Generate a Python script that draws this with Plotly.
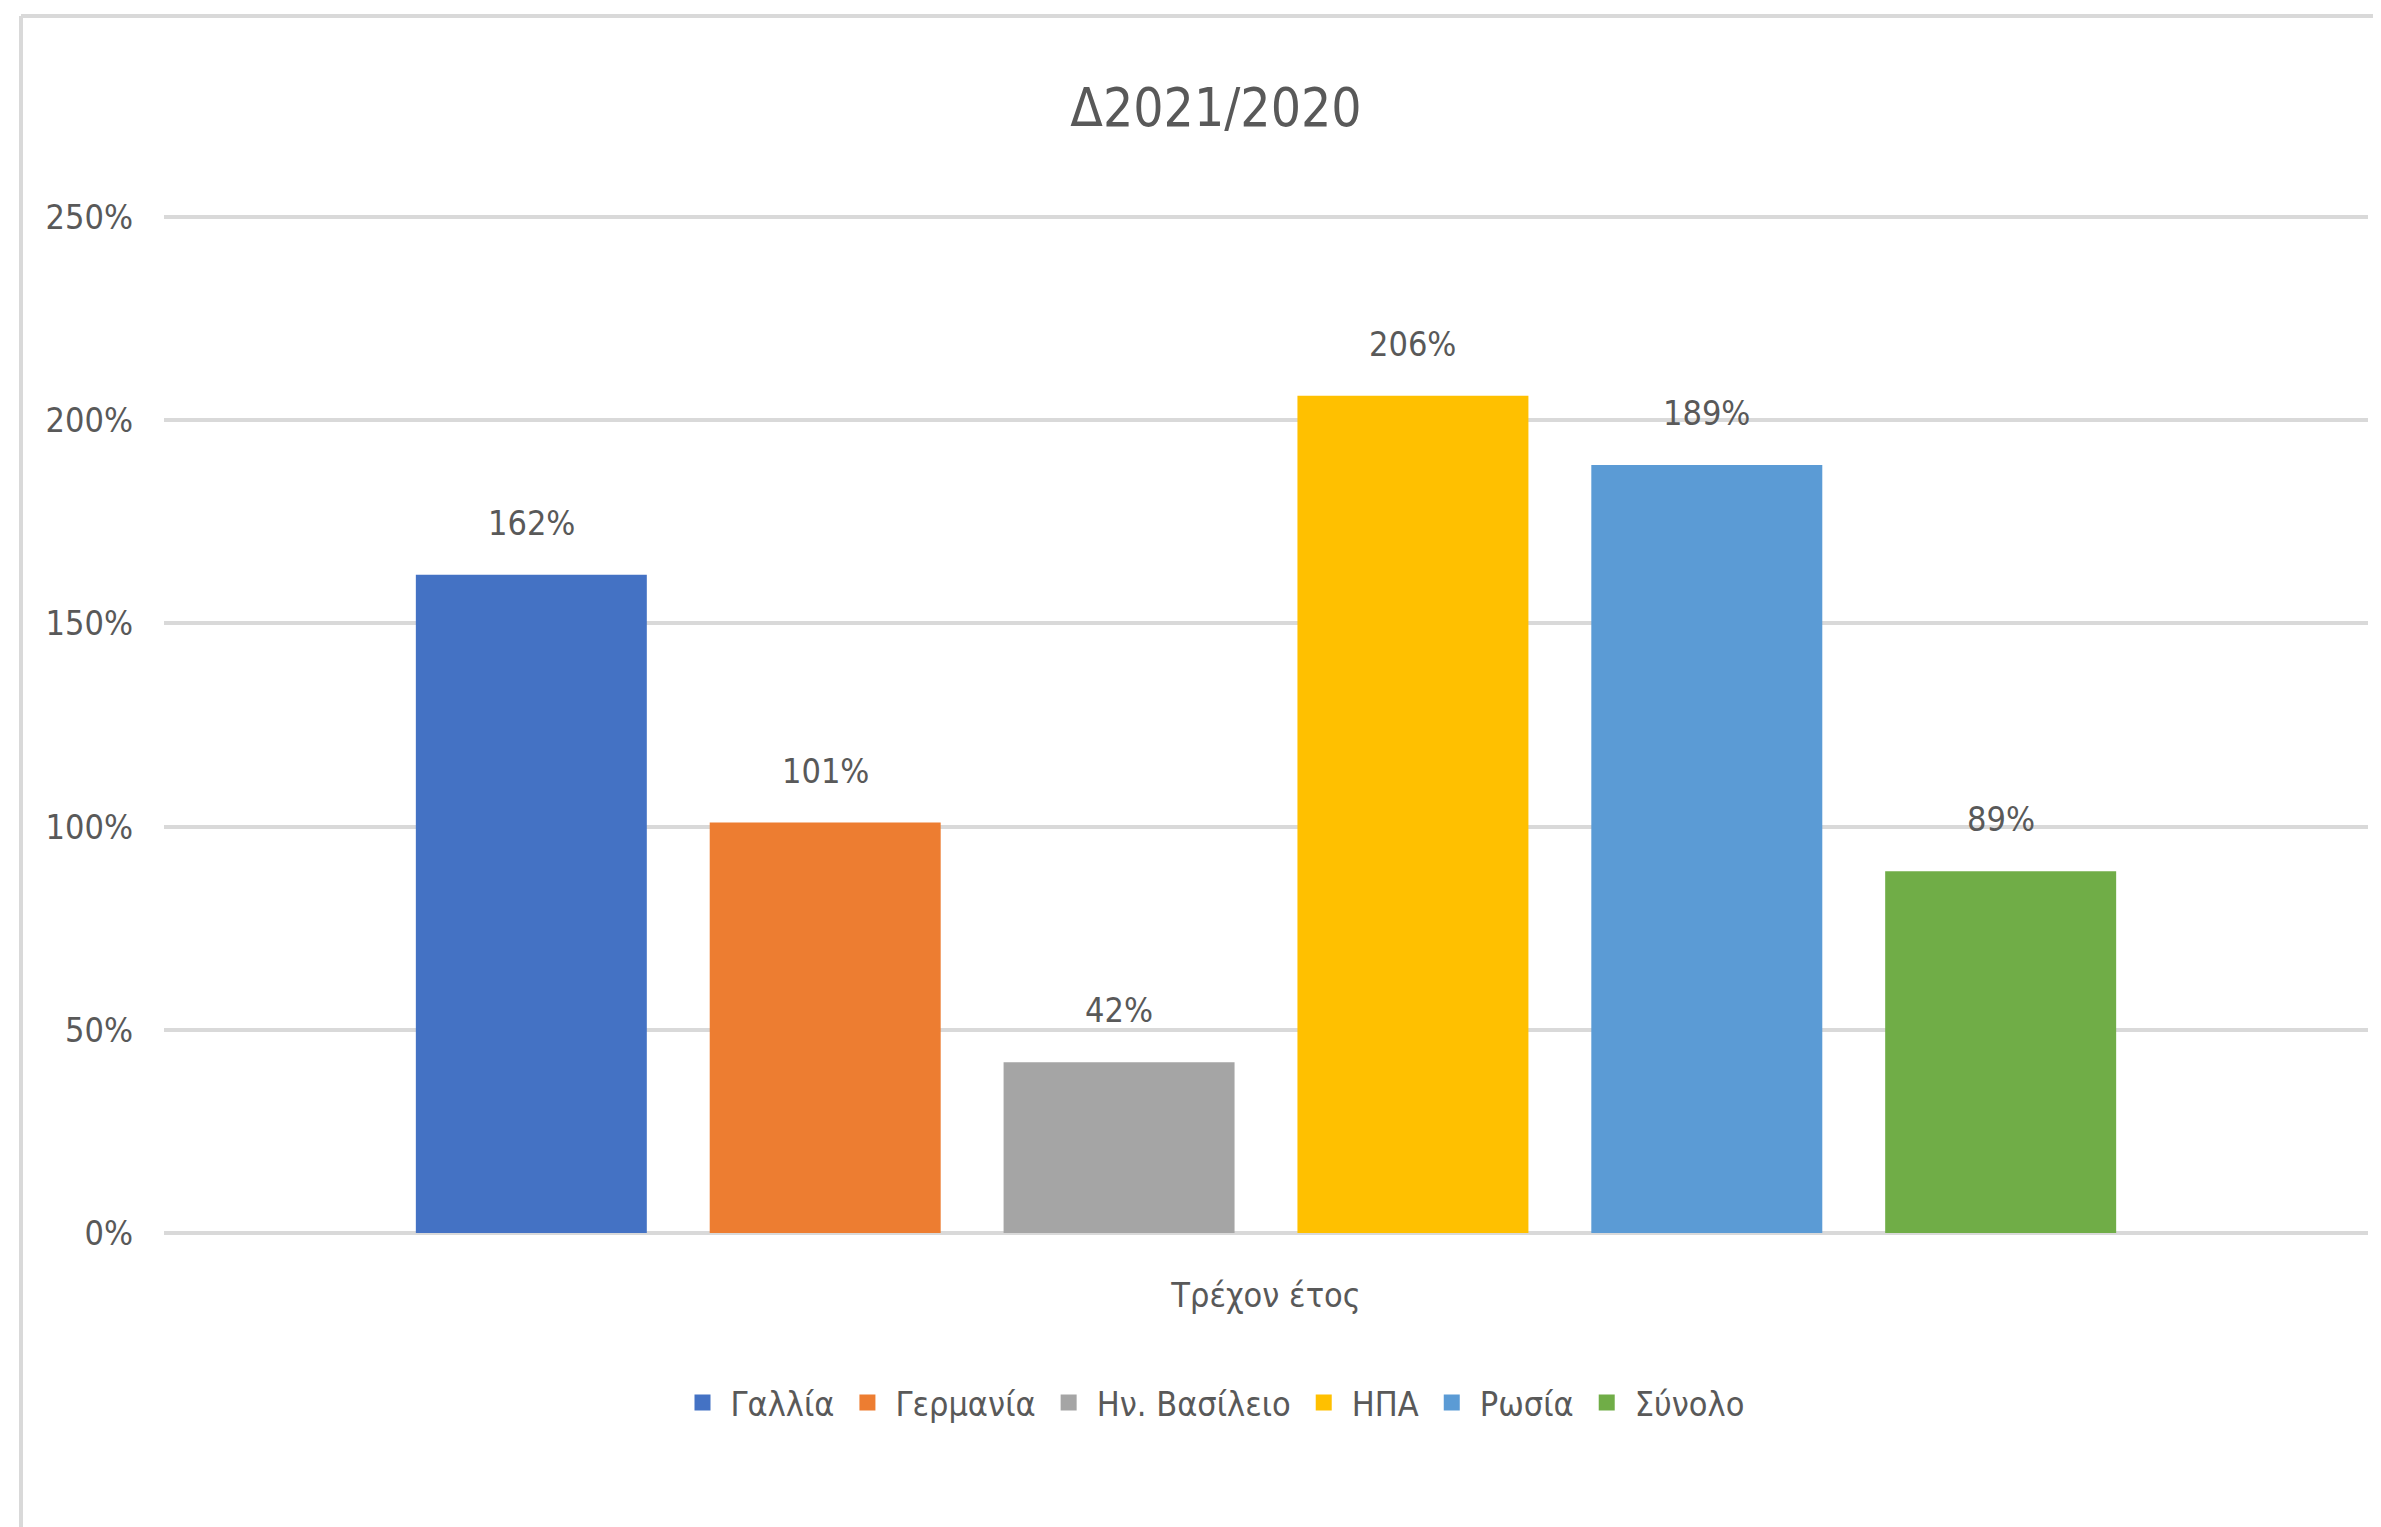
import plotly.graph_objects as go

categories = ["Τρέχον έτος"]
series_names = ["Γαλλία", "Γερμανία", "Ην. Βασίλειο", "ΗΠΑ", "Ρωσία", "Σύνολο"]
series_values = [1.62, 1.01, 0.42, 2.06, 1.89, 0.89]
series_colors = ["#4472C4", "#ED7D31", "#A5A5A5", "#FFC000", "#5B9BD5", "#70AD47"]
y_tickvals = [0, 0.5, 1.0, 1.5, 2.0, 2.5]
y_ticktext = ["0%", "50%", "100%", "150%", "200%", "250%"]
title_text = "Δ2021/2020"

FONT = "DejaVu Sans Condensed, DejaVu Sans, sans-serif"
TXT = "#595959"
FS = 34
BARGAP = 0.2
BARGROUPGAP = 0.214
YMAX = 2.51

fig = go.Figure()
for name, val, col in zip(series_names, series_values, series_colors):
    fig.add_trace(go.Bar(
        name=name, x=categories, y=[val], legendgroup=name, showlegend=False,
        marker=dict(color=col, line=dict(width=0)),
    ))
# legend entries with larger square keys
for name, col in zip(series_names, series_colors):
    fig.add_trace(go.Scatter(
        name=name, x=categories, y=[None], mode="markers", legendgroup=name,
        marker=dict(symbol="square", size=16, color=col), hoverinfo="skip",
    ))

# data labels above each bar (positions derived from grouping layout)
n = len(series_names)
slot = (1 - BARGAP) / n
annotations = []
for i, val in enumerate(series_values):
    xpos = -0.5 * (1 - BARGAP) + (i + 0.5) * slot
    annotations.append(dict(
        x=xpos, y=val, xref="x", yref="y", text=f"{round(val*100)}%",
        showarrow=False, yanchor="bottom", yshift=30,
        font=dict(family=FONT, size=FS, color=TXT),
    ))

W, H = 2373, 1519
L, R, B = 156, 13, 294
base_y = H - B  # pixel row of 0%
unit_px = 1016 / 2.5
ph = round(unit_px * YMAX)
T = H - B - ph
pw = W - L - R

bx = (13 - L) / pw
by = (base_y - 8) / ph
shapes = [
    dict(type="line", xref="paper", yref="paper",
         x0=bx, x1=bx, y0=by, y1=-0.5,
         line=dict(color="#D9D9D9", width=4)),
    dict(type="line", xref="paper", yref="paper",
         x0=bx, x1=1.2, y0=by, y1=by,
         line=dict(color="#D9D9D9", width=4)),
]

fig.update_layout(
    width=W, height=H,
    margin=dict(l=L, r=R, t=T, b=B, pad=0),
    paper_bgcolor="white", plot_bgcolor="white",
    barmode="group", bargap=BARGAP, bargroupgap=BARGROUPGAP,
    title=dict(text=title_text, x=1208 / W, xref="container", xanchor="center",
               y=1 - 99 / H, yref="container", yanchor="middle",
               font=dict(family=FONT, size=53, color=TXT)),
    font=dict(family=FONT, size=FS, color=TXT),
    showlegend=True,
    legend=dict(orientation="h", x=(1204 - L) / pw, xanchor="center",
                y=(base_y - 1395) / ph, yanchor="middle",
                font=dict(family=FONT, size=FS, color=TXT),
                traceorder="normal", itemwidth=46, itemclick=False,
                bgcolor="rgba(0,0,0,0)"),
    xaxis=dict(showgrid=False, showline=False, zeroline=False, ticks="",
               ticklabelstandoff=39, tickfont=dict(family=FONT, size=FS, color=TXT)),
    yaxis=dict(range=[0, YMAX], tickvals=y_tickvals, ticktext=y_ticktext,
               showgrid=True, gridcolor="#D9D9D9", gridwidth=3.5,
               zeroline=True, zerolinecolor="#D9D9D9", zerolinewidth=3.5,
               showline=False, ticks="", ticklabelstandoff=30,
               tickfont=dict(family=FONT, size=FS, color=TXT)),
    annotations=annotations,
    shapes=shapes,
)

fig.write_html("out.html")
